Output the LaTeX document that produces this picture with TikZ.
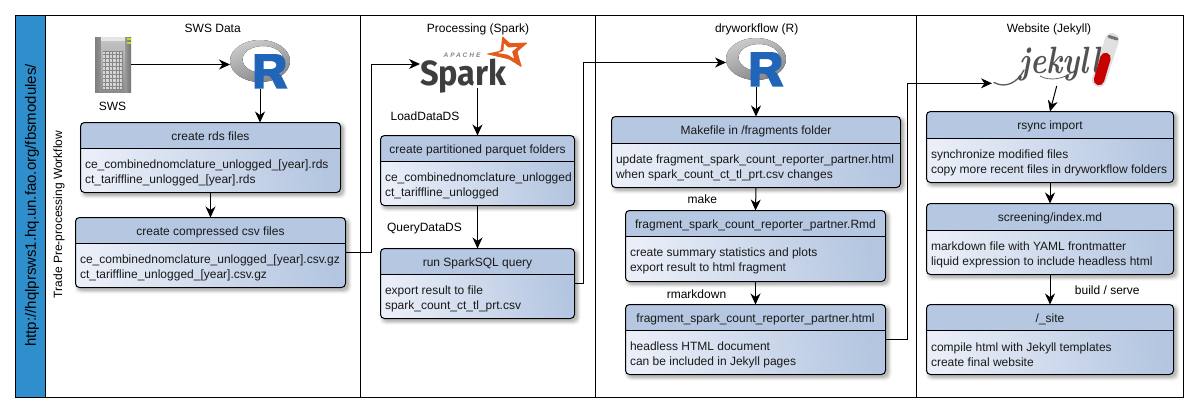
\documentclass[tikz,border=0pt]{standalone}
\usepackage{graphicx}
\usepackage{fontspec}
\setmainfont{Liberation Sans}
\newfontfamily\sparkfont{Fira Sans}
\newfontfamily\jekfont{Latin Modern Roman}
\usetikzlibrary{arrows.meta,calc}
\definecolor{bandblue}{HTML}{2F8FCC}
\definecolor{headblue}{HTML}{B5C7E1}
\definecolor{bodylight}{HTML}{E9EEF8}
\definecolor{bodydark}{HTML}{B3C5E0}
\definecolor{rblue}{HTML}{2065B8}
\definecolor{sparkorange}{HTML}{E25A1C}
\definecolor{sparkgray}{HTML}{3E3D40}
\tikzset{
  x=1pt,y=-1pt,
  frameline/.style={draw=black,line width=1pt},
  conn/.style={draw=black,line width=1pt,-{Stealth[length=11pt,width=10pt,inset=3.5pt]}},
  plain/.style={draw=black,line width=1pt},
  txt/.style={font=\fontsize{12}{15}\selectfont,text=black!90,inner sep=0pt,outer sep=0pt},
  oneline/.style={txt,text height=8.6pt,text depth=2.4pt},
  onelineh/.style={oneline,yshift=-1.4pt},
  bodytxt/.style={txt,anchor=west,align=left,yshift=-1.7pt},
  boxbody/.style={rounded corners=4pt,inner sep=0pt,outer sep=0pt,shading=axis,left color=bodylight,right color=bodydark,shading angle=100},
  logo/.style={inner sep=0pt,outer sep=0pt},
}
\newcommand{\procbox}[9]{%
  \foreach \e/\o in {3/.04,2/.06,1/.08,0/.10}{%
    \fill[black,opacity=\o,rounded corners=5pt] ({#2+2-\e},{#3+2-\e}) rectangle ({#4+3+\e},{#5+3+\e});}
  \node[boxbody,minimum width={(#4-#2)*1pt},minimum height={(#5-#3)*1pt}] (#1) at ({(#2+#4)/2},{(#3+#5)/2}) {};
  \fill[headblue] (#2,#6) [rounded corners=4pt] -- (#2,#3) -- (#4,#3) [sharp corners] -- (#4,#6) -- cycle;
  \draw[plain,rounded corners=4pt] (#1.north west) rectangle (#1.south east);
  \draw[plain] (#2,#6) -- (#4,#6);
  \node[onelineh] (#1title) at ({(#2+#4)/2},{(#3+#6)/2}) {#7};
  \node[bodytxt] (#1text) at ({#2+4.5},{(#6+#5)/2+.3}) {#8\\#9};
}
\newcommand{\rlogo}[3]{%
  \node[logo,minimum width=60pt,minimum height=49pt] (#1) at (#2,#3) {};
  \begin{scope}[shift={(#2,#3)}]
    \fill[even odd rule,shading=axis,top color=black!20,bottom color=black!48,shading angle=20]
      (0,-3.5) ellipse [x radius=30,y radius=21]
      (3,-5) ellipse [x radius=20.5,y radius=13.5];
    \begin{scope}[shift={(-5.5,-10.5)}]
      \fill[rblue,even odd rule] (0,0) -- (21,0) .. controls (28,0) and (31,4) .. (31,10)
        .. controls (31,15) and (28,18) .. (24,19.5) .. controls (26,20.5) and (27,22) .. (28,24)
        -- (33,34.5) -- (22,34.5) -- (17,24.5) .. controls (16,22.5) and (15,21.5) .. (12,21.5)
        -- (9,21.5) -- (9,34.5) -- (0,34.5) -- cycle
        (9,7) -- (9,15) -- (17,15) .. controls (20,15) and (22,13.5) .. (22,11)
        .. controls (22,8.5) and (20,7) .. (17,7) -- cycle;
    \end{scope}
  \end{scope}
}
\begin{document}
\begin{tikzpicture}
\useasboundingbox (0,0) rectangle (1199,413);
\fill[white] (0,0) rectangle (1199,413);
% pool frame
\fill[bandblue] (15.5,15.5) rectangle (45.5,397.5);
\draw[frameline] (15.5,15.5) rectangle (1183.5,397.5);
\draw[frameline] (45.5,15.5) -- (45.5,397.5);
\draw[frameline] (360.5,15.5) -- (360.5,397.5);
\draw[frameline] (595.5,15.5) -- (595.5,397.5);
\draw[frameline] (916.5,15.5) -- (916.5,397.5);
\node[txt,rotate=90,font=\fontsize{15}{16}\selectfont,text=black] (url) at (32,205.5) {http://hqlprsws1.hq.un.fao.org/fbsmodules/};
\node[oneline,rotate=90,text=black] (pool) at (59,214.5) {Trade Pre-processing Workflow};
\node[onelineh,text=black] (t1) at (212.7,28) {SWS Data};
\node[onelineh,text=black] (t2) at (478,28) {Processing (Spark)};
\node[onelineh,text=black] (t3) at (756.7,28) {dryworkflow (R)};
\node[onelineh,text=black] (t4) at (1049,28) {Website (Jekyll)};
% server
\node[logo,minimum width=36pt,minimum height=55pt] (server) at (113,64.5) {};
\shade[left color=black!50,right color=black!42] (95,37) rectangle (102,92);
\shade[top color=black!22,bottom color=black!45] (101,37) rectangle (125,92);
\shade[left color=black!40,right color=black!55] (125,37) rectangle (131,92);
\fill[black!10] (101,37) rectangle (125,41);
\fill[black!48] (102.5,51) rectangle (123,90);
\foreach \i in {0,...,5}{\foreach \j in {0,...,9}{
  \fill[black!16] ({103+\i*3.4},{51.5+\j*3.9}) rectangle ({105.4+\i*3.4},{54.3+\j*3.9});}}
\fill[yellow!75!green] (127,38) rectangle (131,40);
\fill[yellow!75!green] (127,41.5) rectangle (131,43.5);
\node[onelineh,text=black] (swslabel) at (112.5,106) {SWS};
% logos
\rlogo{rOne}{260}{64.5}
\rlogo{rTwo}{756}{62.5}
\node[logo,minimum width=115pt,minimum height=48pt] (spark) at (477.5,64) {};
\fill[sparkorange,rounded corners=1.2pt] (502.3,36) -- (510,43.3) -- (528,42.5) -- (517.3,51.7) -- (522,67.5) -- (509,59.3) -- (486,54) -- (500.7,50.7) -- cycle;
\fill[white,rounded corners=.5pt] (504,43.5) -- (508,47.5) -- (517.5,47) -- (512,51.5) -- (514,58.5) -- (507.5,54.5) -- (497.5,53) -- (503.5,51) -- cycle;
\node[inner sep=0pt,anchor=base west,text=sparkgray,font={\fontsize{35}{35}\selectfont\sparkfont\bfseries}] (sparkword) at (420,85) {\scalebox{.93}[1]{Spark}};
\node[inner sep=0pt,text=black!48,font={\fontsize{6.5}{6.5}\selectfont\bfseries\itshape\addfontfeature{LetterSpace=30}}] (apache) at (462,55) {APACHE};
% jekyll
\node[logo,minimum width=130pt,minimum height=51pt] (jekyll) at (1057,60.5) {};
\coordinate (jekin) at (992,83.3);
\coordinate (jekout) at (1056.7,86);
\draw[black!65,line width=1.3pt,line cap=round] (994,82.5) .. controls (1006,89) and (1018,82) .. (1024,70);
\draw[black!60,line width=.8pt] (1040,76) .. controls (1050,82) and (1066,78) .. (1072,72);
\draw[black!12,line width=14pt,line cap=round] (1112,40) -- (1099,80);
\node[inner sep=0pt,anchor=base west,text=black!68,font={\fontsize{38}{38}\selectfont\jekfont\bfseries\itshape}] (jekword) at (1019,73) {\scalebox{.8}[1]{jekyll}};
\draw[red!78!black,line width=10.5pt,line cap=round] (1105.5,58) -- (1099,80);
\draw[black!55,line width=3pt,line cap=round] (1109,36.5) -- (1117,39);
% boxes
\procbox{a}{80.5}{122.5}{340.5}{192.5}{148.5}{create rds files}{ce\_combinednomclature\_unlogged\_[year].rds}{ct\_tariffline\_unlogged\_[year].rds}
\procbox{b}{75.5}{217.5}{345.5}{287.5}{243.5}{create compressed csv files}{ce\_combinednomclature\_unlogged\_[year].csv.gz}{ct\_tariffline\_unlogged\_[year].csv.gz}
\procbox{c}{380.5}{135.5}{574.5}{205.5}{161.5}{create partitioned parquet folders}{ce\_combinednomclature\_unlogged}{ct\_tariffline\_unlogged}
\procbox{d}{380.5}{248.5}{574.5}{318.5}{274.5}{run SparkSQL query}{export result to file}{spark\_count\_ct\_tl\_prt.csv}
\procbox{e}{611.5}{116.5}{900.5}{187.5}{143.5}{Makefile in /fragments folder}{update fragment\_spark\_count\_reporter\_partner.html}{when spark\_count\_ct\_tl\_prt.csv changes}
\procbox{f}{625.5}{210.5}{885.5}{281.5}{236.5}{fragment\_spark\_count\_reporter\_partner.Rmd}{create summary statistics and plots}{export result to html fragment}
\procbox{g}{625.5}{304.5}{885.5}{374.5}{330.5}{fragment\_spark\_count\_reporter\_partner.html}{headless HTML document}{can be included in Jekyll pages}
\procbox{h}{926.5}{111.5}{1173.5}{182.5}{138.5}{rsync import}{synchronize modified files}{copy more recent files in dryworkflow folders}
\procbox{i}{926.5}{203.5}{1173.5}{274.5}{230.5}{screening/index.md}{markdown file with YAML frontmatter}{liquid expression to include headless html}
\procbox{j}{926.5}{304.5}{1173.5}{374.5}{330.5}{/\_site}{compile html with Jekyll templates}{create final website}
% connector labels
\node[onelineh,text=black] (l1) at (425,116) {LoadDataDS};
\node[onelineh,text=black] (l2) at (424.5,227) {QueryDataDS};
\node[onelineh,text=black] (l3) at (702.3,199) {make};
\node[onelineh,text=black] (l4) at (696.5,294) {rmarkdown};
\node[onelineh,text=black] (l5) at (1107.3,290) {build / serve};
% connectors
\coordinate (busA) at (371.5,0);
\coordinate (busB) at (583.5,0);
\coordinate (busC) at (907.5,0);
\draw[conn] (server.east) -- (rOne.west);
\draw[conn] (rOne.south) -- (rOne.south |- a.north);
\draw[conn] (a.south) -- (b.north);
\draw[conn] (b.east) -| (busA |- spark.west) -- (spark.west);
\draw[conn] (spark.south) -- (c.north);
\draw[conn] (c.south) -- (d.north);
\draw[conn] (d.east) -| (busB |- rTwo.west) -- (rTwo.west);
\draw[conn] (rTwo.south) -- (e.north);
\draw[conn] (e.south) -- (f.north);
\draw[conn] (f.south) -- (g.north);
\draw[conn] (g.east) -| (busC |- jekin) -- (jekin);
\draw[conn] (jekout) -- (h.north);
\draw[conn] (h.south) -- (i.north);
\draw[conn] (i.south) -- (j.north);
\end{tikzpicture}
\end{document}
